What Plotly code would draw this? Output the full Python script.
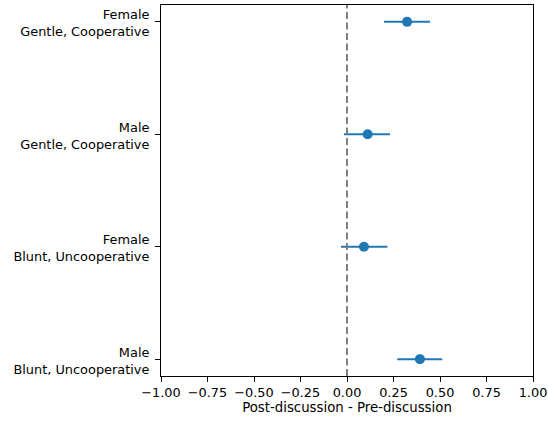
import plotly.graph_objects as go

group_gender = ["Male", "Female", "Male", "Female"]
group_style = ["Blunt, Uncooperative", "Blunt, Uncooperative",
               "Gentle, Cooperative", "Gentle, Cooperative"]
means = [0.392, 0.091, 0.111, 0.323]
lower = [0.270, -0.032, -0.016, 0.199]
upper = [0.512, 0.217, 0.231, 0.446]
x_ticks = [-1.0, -0.75, -0.5, -0.25, 0.0, 0.25, 0.5, 0.75, 1.0]
x_ticklabels = ["\u22121.00", "\u22120.75", "\u22120.50", "\u22120.25", "0.00", "0.25", "0.50", "0.75", "1.00"]

ypos = list(range(len(group_gender)))
err_plus = [u - m for u, m in zip(upper, means)]
err_minus = [m - l for m, l in zip(means, lower)]
FS = 12.9
yr = [-0.15, 3.15]

fig = go.Figure()
fig.add_trace(go.Scatter(
    x=means, y=ypos, mode="markers",
    marker=dict(color="#1f77b4", size=10),
    error_x=dict(type="data", array=err_plus, arrayminus=err_minus,
                 color="#1f77b4", thickness=2, width=0),
    showlegend=False,
))
# invisible companion trace so the second label axis is drawn
fig.add_trace(go.Scatter(
    x=means, y=ypos, yaxis="y2", mode="markers",
    marker=dict(opacity=0), hoverinfo="skip", showlegend=False,
))
fig.add_shape(type="line", x0=0, x1=0, y0=0, y1=1, yref="paper", xref="x",
              line=dict(color="gray", width=2, dash="7px,3.5px"))

fig.update_layout(
    width=548, height=422,
    margin=dict(l=161, r=15, t=5, b=46),
    plot_bgcolor="white", paper_bgcolor="white",
    font=dict(family="DejaVu Sans", size=FS, color="black"),
    xaxis=dict(range=[-1, 1], tickvals=x_ticks, ticktext=x_ticklabels,
               showgrid=False, zeroline=False, showline=True, mirror=True,
               linecolor="black", linewidth=1, ticks="outside", ticklen=5,
               tickcolor="black", automargin=False, tickfont=dict(size=FS),
               title=dict(text="Post-discussion - Pre-discussion",
                          font=dict(size=13.3), standoff=3)),
    yaxis=dict(range=yr, tickvals=ypos, ticktext=group_gender,
               showgrid=False, zeroline=False, showline=True, mirror=True,
               linecolor="black", linewidth=1, ticks="outside", ticklen=5,
               tickcolor="black", automargin=False, tickfont=dict(size=FS),
               ticklabelshift=-7, ticklabelstandoff=3),
    yaxis2=dict(range=yr, tickvals=ypos, ticktext=group_style, overlaying="y",
                side="left", showgrid=False, zeroline=False, showline=False,
                ticks="outside", ticklen=5, tickcolor="rgba(0,0,0,0)",
                automargin=False, tickfont=dict(size=FS), ticklabelshift=10,
                ticklabelstandoff=3),
)
fig.write_html("out.html", config={"displayModeBar": False},
               post_script="document.body.style.margin='0px';")
